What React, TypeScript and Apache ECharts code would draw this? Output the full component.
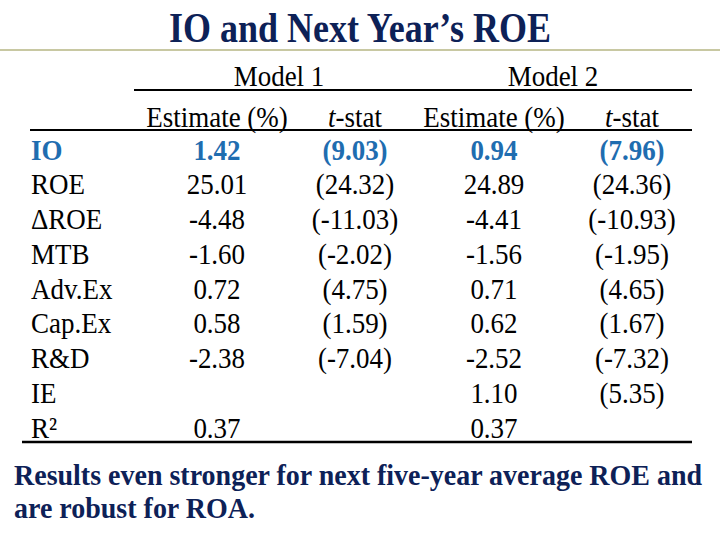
import React, { useEffect, useRef } from "react";
import * as echarts from "echarts";

const title = "IO and Next Year\u2019s ROE";
const modelNames = ["Model 1", "Model 2"];
const rowLabels = ["IO", "ROE", "\u0394ROE", "MTB", "Adv.Ex", "Cap.Ex", "R&D", "IE", "R\u00B2"];
const m1Est: (number | null)[] = [1.42, 25.01, -4.48, -1.6, 0.72, 0.58, -2.38, null, 0.37];
const m1T: (number | null)[] = [9.03, 24.32, -11.03, -2.02, 4.75, 1.59, -7.04, null, null];
const m2Est: (number | null)[] = [0.94, 24.89, -4.41, -1.56, 0.71, 0.62, -2.52, 1.1, 0.37];
const m2T: (number | null)[] = [7.96, 24.36, -10.93, -1.95, 4.65, 1.67, -7.32, 5.35, null];
const footnote = [
  "Results even stronger for next five-year average ROE and",
  "are robust for ROA.",
];

const NAVY = "#0d2157";
const BLUE = "#1f6db0";
const FONT = "'Liberation Serif', 'Times New Roman', serif";

export default function App() {
  const ref = useRef<HTMLDivElement>(null);
  useEffect(() => {
    if (!ref.current) return;
    const chart = echarts.init(ref.current, null, { renderer: "svg" });
    const els: any[] = [];
    const SY = 1.12;
    const txt = (text: string, x: number, y: number, opts: any = {}) => {
      els.push({
        type: "text",
        x,
        y,
        scaleY: opts.scaleY ?? SY,
        style: {
          text,
          x: 0,
          y: 0,
          fill: opts.fill ?? "#000",
          font: `${opts.bold ? "bold " : ""}${opts.italic ? "italic " : ""}${opts.size ?? 27}px ${FONT}`,
          align: opts.align ?? "center",
          verticalAlign: "middle",
        },
      });
    };
    const line = (x1: number, y1: number, x2: number, y2: number, color: string, w: number) => {
      els.push({ type: "line", shape: { x1, y1, x2, y2 }, style: { stroke: color, lineWidth: w } });
    };

    // title
    txt(title, 360, 28, { bold: true, size: 36, fill: NAVY, scaleY: 1.15 });
    line(0, 50, 720, 50, "#c8c8a2", 2);

    // model headers
    const colX = [217, 355, 494, 632];
    txt(modelNames[0], 279, 75);
    txt(modelNames[1], 553, 75);
    line(134, 90, 692, 90, "#000", 2);
    for (let m = 0; m < 2; m++) {
      txt("Estimate (%)", colX[m * 2], 116);
      els.push({
        type: "text",
        x: colX[m * 2 + 1],
        y: 116,
        scaleY: SY,
        style: {
          text: "{i|t}{n|-stat}",
          x: 0,
          y: 0,
          align: "center",
          verticalAlign: "middle",
          rich: {
            i: { font: `italic 27px ${FONT}`, fill: "#000" },
            n: { font: `27px ${FONT}`, fill: "#000" },
          },
        },
      });
    }
    line(30, 130, 692, 130, "#000", 2);

    const fmt = (v: number | null) => (v === null ? "" : v.toFixed(2));
    const fmtT = (v: number | null) => (v === null ? "" : `(${v.toFixed(2)})`);
    rowLabels.forEach((lab, i) => {
      const y = 149 + 34.75 * i;
      const hl = i === 0;
      const o = { bold: hl, fill: hl ? BLUE : "#000" };
      txt(lab, 31, y, { ...o, align: "left" });
      txt(fmt(m1Est[i]), colX[0], y, o);
      txt(fmtT(m1T[i]), colX[1], y, o);
      txt(fmt(m2Est[i]), colX[2], y, o);
      txt(fmtT(m2T[i]), colX[3], y, o);
    });
    line(22, 442, 692, 442, "#000", 2.5);

    footnote.forEach((t, i) => {
      txt(t, 14, 475 + 33 * i, { bold: true, size: 28, fill: NAVY, align: "left", scaleY: 1.08 });
    });

    chart.setOption({
      animation: false,
      backgroundColor: "#fff",
      graphic: { elements: els },
    });
    return () => chart.dispose();
  }, []);
  return (
    <div
      ref={ref}
      style={{ position: "fixed", left: 0, top: 0, width: 720, height: 540, background: "#fff" }}
    />
  );
}
